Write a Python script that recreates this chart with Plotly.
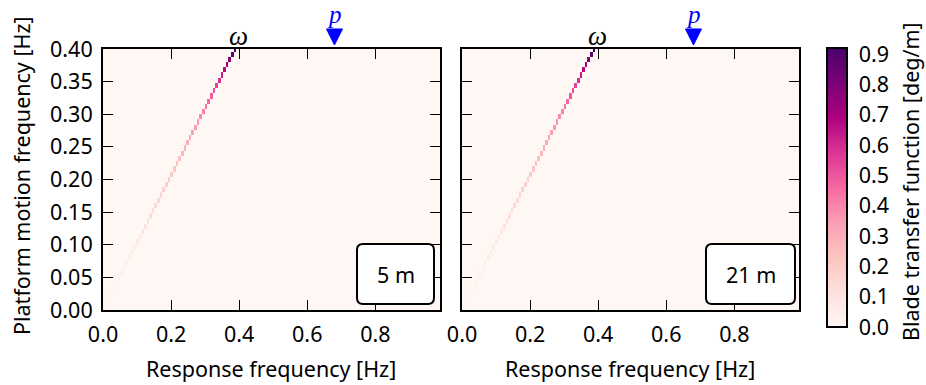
import numpy as np
import plotly.graph_objects as go

# ---------------- data ----------------
# grid of the transfer-function maps (Hz)
platform_step = 0.008      # platform motion frequency resolution
response_step = 0.00776    # response frequency resolution
n_platform = 51
n_response = 128

# amplitude along the diagonal (response = platform frequency), one per platform row
amp_5m = [0.0, 0.0, 0.005, 0.01, 0.015, 0.02, 0.025, 0.03, 0.035, 0.04,
          0.045, 0.05, 0.06, 0.07, 0.08, 0.09, 0.10, 0.11, 0.12, 0.13,
          0.14, 0.15, 0.16, 0.17, 0.18, 0.19, 0.20, 0.22, 0.23, 0.25,
          0.27, 0.28, 0.30, 0.31, 0.33, 0.35, 0.37, 0.39, 0.41, 0.43,
          0.46, 0.49, 0.52, 0.55, 0.59, 0.63, 0.67, 0.72, 0.78, 0.85, 0.92]
amp_21m = list(amp_5m)

panel_labels = ["5 m", "21 m"]
omega_freq = 0.397
p_freq = 0.68

y_ticks = [0.00, 0.05, 0.10, 0.15, 0.20, 0.25, 0.30, 0.35, 0.40]
x_ticks = [0.0, 0.2, 0.4, 0.6, 0.8]
cb_ticks = [0.0, 0.1, 0.2, 0.3, 0.4, 0.5, 0.6, 0.7, 0.8, 0.9]
cb_min, cb_max = 0.0, 0.92

platform_freq = np.round(np.arange(n_platform) * platform_step, 4)
response_freq = np.round(np.arange(n_response) * response_step, 5)


def build_z(amp):
    z = np.zeros((n_platform, n_response))
    for i, a in enumerate(amp):
        z[i, i] = a
    return z


W, H = 926, 385
FONT = "Noto Sans"
FS = 21.5


def px(x):
    return x / W


def py(y):
    return 1 - y / H


fig = go.Figure()
for k, amp in enumerate([amp_5m, amp_21m]):
    fig.add_trace(go.Heatmap(
        x=response_freq, y=platform_freq, z=build_z(amp),
        coloraxis="coloraxis", xaxis="x" if k == 0 else "x2", yaxis="y" if k == 0 else "y2",
        zsmooth=False, hoverinfo="skip"))

axis_common = dict(
    showline=True, linewidth=2, linecolor="black", mirror="ticks",
    ticks="inside", ticklen=10, tickwidth=1, tickcolor="black",
    showgrid=False, zeroline=False, automargin=False, ticklabelstandoff=4,
    tickfont=dict(family=FONT, size=FS, color="black"),
)
ydom = [py(310), py(49)]
CB_X0, CB_X1, CB_Y0, CB_Y1 = 827, 847, 48, 327
fig.update_layout(
    width=W, height=H, margin=dict(l=0, r=0, t=0, b=0),
    template="none", paper_bgcolor="white", plot_bgcolor="#fff7f3",
    font=dict(family=FONT, size=FS, color="black"),
    showlegend=False,
    xaxis=dict(domain=[px(103), px(440)], range=[0, 0.99], tickvals=x_ticks,
               tickformat=".1f", anchor="y", **axis_common),
    yaxis=dict(domain=ydom, range=[0, 0.40], tickvals=y_ticks, tickformat=".2f",
               anchor="x", **axis_common),
    xaxis2=dict(domain=[px(462), px(799)], range=[0, 0.99], tickvals=x_ticks,
                tickformat=".1f", anchor="y2", **axis_common),
    yaxis2=dict(domain=ydom, range=[0, 0.40], tickvals=y_ticks, showticklabels=False,
                anchor="x2", **axis_common),
    coloraxis=dict(
        colorscale="RdPu", cmin=cb_min, cmax=cb_max,
        colorbar=dict(
            x=px(CB_X0), xanchor="left", y=py(CB_Y0), yanchor="top",
            len=(CB_Y1 - CB_Y0) / H, lenmode="fraction", thickness=CB_X1 - CB_X0,
            xpad=0, ypad=0, outlinewidth=2, outlinecolor="black",
            ticks="outside", ticklen=7, tickwidth=1, tickcolor="rgba(0,0,0,0)",
            tickvals=cb_ticks, tickformat=".1f",
            tickfont=dict(family=FONT, size=FS, color="black"),
        ),
    ),
)

# inside tick marks on the colorbar (right side, pointing in)
for t in cb_ticks:
    yy = CB_Y1 - (t - cb_min) / (cb_max - cb_min) * (CB_Y1 - CB_Y0)
    fig.add_shape(type="line", xref="paper", yref="paper",
                  x0=px(CB_X1 - 10), x1=px(CB_X1), y0=py(yy), y1=py(yy),
                  line=dict(color="black", width=1))

# axis titles as annotations for exact placement
for cx in (271, 630):
    fig.add_annotation(x=px(cx), y=py(368), xref="paper", yref="paper", xanchor="center",
                       yanchor="middle", text="Response frequency [Hz]", showarrow=False,
                       font=dict(family=FONT, size=FS, color="black"))
fig.add_annotation(x=px(22), y=py(176), xref="paper", yref="paper", xanchor="center",
                   yanchor="middle", text="Platform motion frequency [Hz]", textangle=-90,
                   showarrow=False, font=dict(family=FONT, size=FS, color="black"))
fig.add_annotation(x=px(911), y=py(182), xref="paper", yref="paper", xanchor="center",
                   yanchor="middle", text="Blade transfer function [deg/m]", textangle=-90,
                   showarrow=False, font=dict(family=FONT, size=FS, color="black"))


def rrect(x0, y0, x1, y1, r):
    pts = [
        ("M", [(x0 + r, y0)]), ("L", [(x1 - r, y0)]), ("Q", [(x1, y0), (x1, y0 + r)]),
        ("L", [(x1, y1 - r)]), ("Q", [(x1, y1), (x1 - r, y1)]), ("L", [(x0 + r, y1)]),
        ("Q", [(x0, y1), (x0, y1 - r)]), ("L", [(x0, y0 + r)]), ("Q", [(x0, y0), (x0 + r, y0)]),
    ]
    s = ""
    for cmd, ps in pts:
        s += cmd + " " + " ".join(f"{px(a):.5f},{py(b):.5f}" for a, b in ps) + " "
    return s + "Z"


boxes = [(357, 244, 434, 304), (706, 244, 795, 304)]
for (bx0, by0, bx1, by1), lab in zip(boxes, panel_labels):
    fig.add_shape(type="path", path=rrect(bx0, by0, bx1, by1, 6), xref="paper", yref="paper",
                  line=dict(color="black", width=2), fillcolor="white", layer="above")
    fig.add_annotation(x=px((bx0 + bx1) / 2), y=py((by0 + by1) / 2), xref="paper", yref="paper",
                       xanchor="center", yanchor="middle",
                       text=lab, showarrow=False, font=dict(family=FONT, size=FS, color="black"))

for xa in ["x", "x2"]:
    fig.add_annotation(x=omega_freq, xref=xa, y=py(53), yref="paper", yanchor="bottom",
                       xanchor="center", text="<i>ω</i>", showarrow=False,
                       font=dict(family="Liberation Serif", size=27, color="black"))
    fig.add_annotation(x=p_freq, xref=xa, y=py(30), yref="paper", yanchor="bottom",
                       xanchor="center", text="<i>p</i>", showarrow=False,
                       font=dict(family="Liberation Serif", size=25, color="blue"))
    hw = 8 / 340.0
    fig.add_shape(type="path", xref=xa, yref="paper",
                  path=f"M {p_freq - hw},{py(29):.5f} L {p_freq + hw},{py(29):.5f} L {p_freq},{py(45):.5f} Z",
                  line=dict(color="blue", width=1), fillcolor="blue", layer="above")

fig.write_html("out.html")
